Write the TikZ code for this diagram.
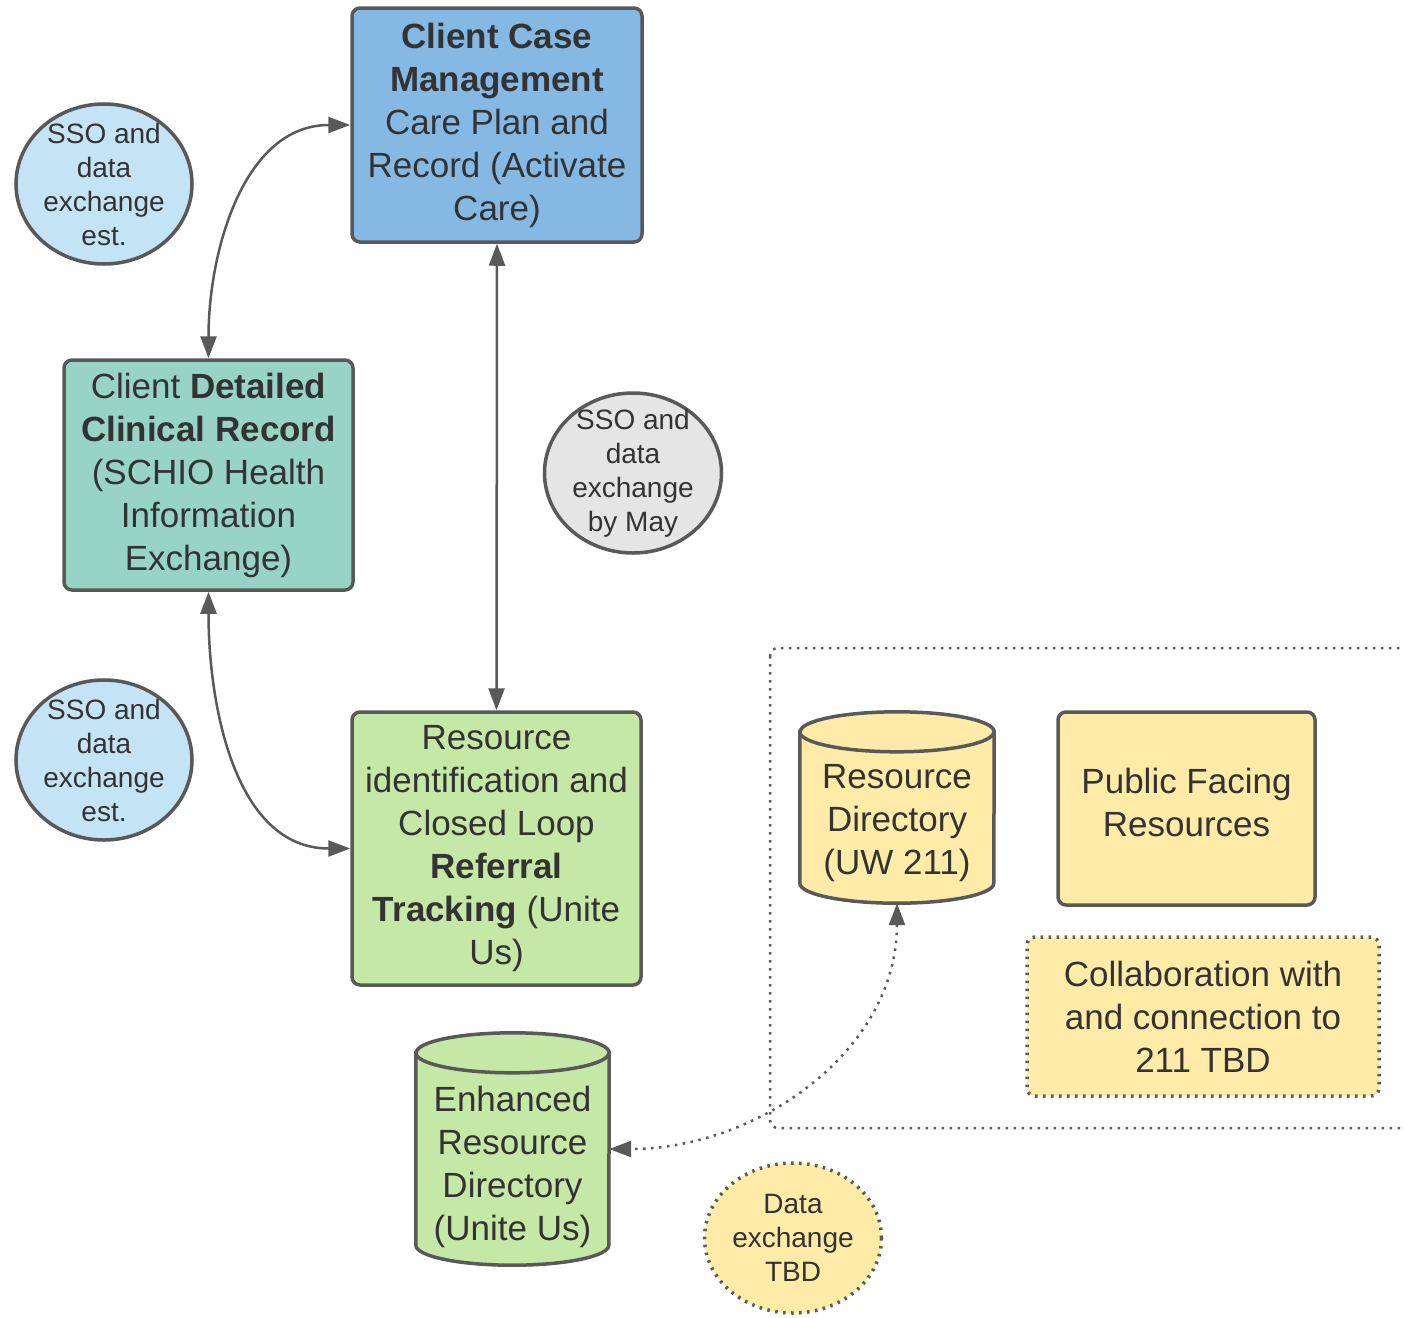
\documentclass[tikz,border=0pt]{standalone}
\usepackage{fontspec}
\setmainfont{Liberation Sans}
\usetikzlibrary{shapes.geometric,arrows.meta}

\definecolor{linegray}{HTML}{595959}
\definecolor{textgray}{HTML}{333333}
\definecolor{casefill}{HTML}{85B9E3}
\definecolor{clinfill}{HTML}{98D4C6}
\definecolor{greenfill}{HTML}{C5E8A7}
\definecolor{bluefill}{HTML}{C4E4F6}
\definecolor{grayfill}{HTML}{E5E5E5}
\definecolor{yellowfill}{HTML}{FFEBA8}

% drum outline round a named node: #1 node, #2 fill, #3 half width
\newcommand{\dbdrum}[3]{%
    \draw[draw=linegray, line width=3.5pt, fill=#2] ([yshift=-20pt]#1.north west) -- ([yshift=20pt]#1.south west) arc[start angle=180, end angle=360, x radius=#3, y radius=20pt] -- ([yshift=-20pt]#1.north east) arc[start angle=0, end angle=180, x radius=#3, y radius=20pt] -- cycle;
    \draw[draw=linegray, line width=3.5pt] ([yshift=-20pt]#1.north west) arc[start angle=180, end angle=360, x radius=#3, y radius=20pt];}

\begin{document}
\begin{tikzpicture}[x=1pt, y=1pt,
    box/.style={draw=linegray, line width=3.5pt, rectangle, rounded corners=8pt, inner sep=0pt, align=center, text=textgray, font=\fontsize{35}{43}\selectfont},
    bubble/.style={draw=linegray, line width=3.5pt, ellipse, inner xsep=0pt, inner ysep=-16pt, align=center, text=textgray, font=\fontsize{28}{34}\selectfont},
    dbase/.style={rectangle, inner sep=0pt},
    dbtext/.style={align=center, inner sep=0pt, text=textgray, font=\fontsize{35}{43}\selectfont},
    link/.style={draw=linegray, line width=2.5pt, {Triangle[length=22pt,width=16pt]}-{Triangle[length=22pt,width=16pt]}},
    dots/.style={dash pattern=on 2.5pt off 5.5pt}]
    \useasboundingbox (0,0) rectangle (1404,-1317);

    \node[box, fill=casefill, minimum width=290pt, minimum height=234pt] (case) at (497,-125) {\textbf{Client Case}\\\textbf{Management}\\Care Plan and\\Record (Activate\\Care)};
    \node[box, fill=clinfill, minimum width=289pt, minimum height=230pt] (clinical) at (208.5,-475) {Client \textbf{Detailed}\\\textbf{Clinical Record}\\(SCHIO Health\\Information\\Exchange)};
    \node[box, fill=greenfill, minimum width=289pt, minimum height=273pt] (referral) at (496.5,-848.5) {Resource\\identification and\\Closed Loop\\\textbf{Referral}\\\textbf{Tracking} (Unite\\Us)};

    \node[bubble, fill=bluefill, minimum width=176pt, minimum height=160pt] (ssotop) at (104,-184) {SSO and\\data\\exchange\\est.};
    \node[bubble, fill=bluefill, minimum width=176pt, minimum height=160pt] (ssolow) at (104,-760) {SSO and\\data\\exchange\\est.};
    \node[bubble, fill=grayfill, minimum width=177pt, minimum height=160pt] (ssomay) at (633,-473) {SSO and\\data\\exchange\\by May};
    \node[bubble, fill=yellowfill, dots, minimum width=177pt, minimum height=150pt] (tbd) at (793,-1238) {Data\\exchange\\TBD};

    % dotted frame round the 211 part
    \draw[draw=linegray, line width=2.5pt, dots, rounded corners=8pt] (770,-648) rectangle (1430,-1128);

    \node[dbase, minimum width=193pt, minimum height=232pt] (enhanced) at (512.5,-1149) {};
    \dbdrum{enhanced}{greenfill}{96.5pt}
    \node[dbtext] (enhancedtext) at ([yshift=-18pt]enhanced.center) {Enhanced\\Resource\\Directory\\(Unite Us)};
    \node[dbase, minimum width=194pt, minimum height=191pt] (uw) at (897,-807.5) {};
    \dbdrum{uw}{yellowfill}{97pt}
    \node[dbtext] (uwtext) at ([yshift=-16pt]uw.center) {Resource\\Directory\\(UW 211)};

    \node[box, fill=yellowfill, minimum width=257pt, minimum height=193pt, text depth=12pt] (public) at (1186.5,-808.5) {Public Facing\\Resources};
    \node[box, fill=yellowfill, dots, minimum width=352pt, minimum height=159pt] (collab) at (1203,-1016.5) {Collaboration with\\and connection to\\211 TBD};

    \draw[link] (case.south) -- (referral.north);
    \draw[link] (clinical.north) to[out=90, in=180] (case.west);
    \draw[link] (clinical.south) to[out=-90, in=180] (referral.west);
    \draw[link, dots] (uw.south) to[out=-90, in=0] (enhanced.east);
\end{tikzpicture}
\end{document}
